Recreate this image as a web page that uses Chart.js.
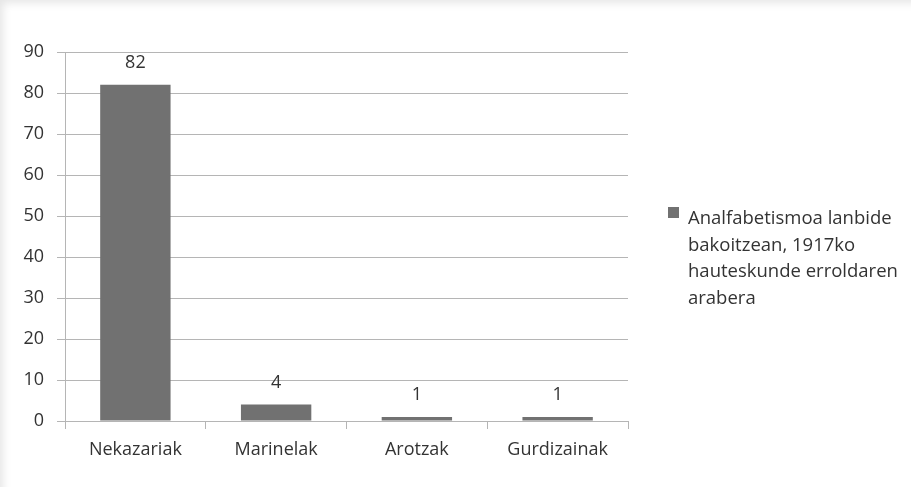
<!DOCTYPE html>
<html>
<head>
<meta charset="utf-8">
<script src="https://cdn.jsdelivr.net/npm/chart.js@4/dist/chart.umd.min.js"></script>
<style>
  html, body { margin: 0; padding: 0; background: #fff; }
  .frame {
    position: relative; width: 911px; height: 487px; overflow: hidden;
    box-shadow: inset 9px 9px 8px -6px rgba(0,0,0,0.10);
  }
  .frame canvas { position: absolute; left: 0; top: 0; }
  .legend {
    position: absolute; left: 668px; top: 204px;
    font-family: "Open Sans", Lato, sans-serif; font-size: 18.5px; line-height: 26.5px; color: #333;
  }
  .legend .box { position: absolute; left: 0; top: 3px; width: 11px; height: 11px; background: #717171; }
  .legend .txt { margin-left: 20px; white-space: nowrap; }
</style>
</head>
<body>
<div class="frame">
  <canvas id="myChart" width="911" height="487"></canvas>
  <div class="legend" id="legend"></div>
</div>
<script>
const categories = ['Nekazariak', 'Marinelak', 'Arotzak', 'Gurdizainak'];
const values = [82, 4, 1, 1];
const seriesLines = ['Analfabetismoa lanbide', 'bakoitzean, 1917ko', 'hauteskunde erroldaren', 'arabera'];
const yTicks = [0, 10, 20, 30, 40, 50, 60, 70, 80, 90];

const fontFamily = '"Open Sans", Lato, sans-serif';
const textColor = '#333';
const lineColor = '#b5b5b5';

// value labels above each bar
const valueLabels = {
  id: 'valueLabels',
  afterDatasetsDraw(chart) {
    const ctx = chart.ctx;
    const meta = chart.getDatasetMeta(0);
    ctx.save();
    ctx.font = '18px ' + fontFamily;
    ctx.fillStyle = textColor;
    ctx.textAlign = 'center';
    ctx.textBaseline = 'middle';
    meta.data.forEach((bar, i) => {
      ctx.fillText(String(values[i]), bar.x, bar.y - 22);
    });
    ctx.restore();
  }
};

const chartInstance = new Chart(document.getElementById('myChart'), {
  type: 'bar',
  data: {
    labels: categories,
    datasets: [{
      label: seriesLines.join(' '),
      data: values,
      backgroundColor: '#717171',
      borderWidth: 0,
      categoryPercentage: 0.5,
      barPercentage: 1.0
    }]
  },
  options: {
    responsive: false,
    animation: false,
    layout: { padding: { left: 7, top: 52, right: 283, bottom: 0 } },
    plugins: { legend: { display: false }, tooltip: { enabled: false } },
    scales: {
      x: {
        afterFit: (scale) => { scale.height = 66; },
        grid: { drawOnChartArea: false, drawTicks: true, tickLength: 8, color: lineColor, offset: true },
        border: { color: lineColor, width: 1 },
        ticks: { color: textColor, font: { family: fontFamily, size: 18 }, padding: 10, maxRotation: 0 }
      },
      y: {
        min: 0,
        max: 90,
        afterBuildTicks: (scale) => { scale.ticks = yTicks.map(v => ({ value: v })); },
        afterFit: (scale) => { scale.width = 58; },
        grid: { color: lineColor, tickLength: 8 },
        border: { color: lineColor, width: 1 },
        ticks: { color: textColor, font: { family: fontFamily, size: 18 }, padding: 13 }
      }
    }
  },
  plugins: [valueLabels]
});

const legend = document.getElementById('legend');
legend.innerHTML = '<div class="box"></div><div class="txt">' + seriesLines.join('<br>') + '</div>';
</script>
</body>
</html>
